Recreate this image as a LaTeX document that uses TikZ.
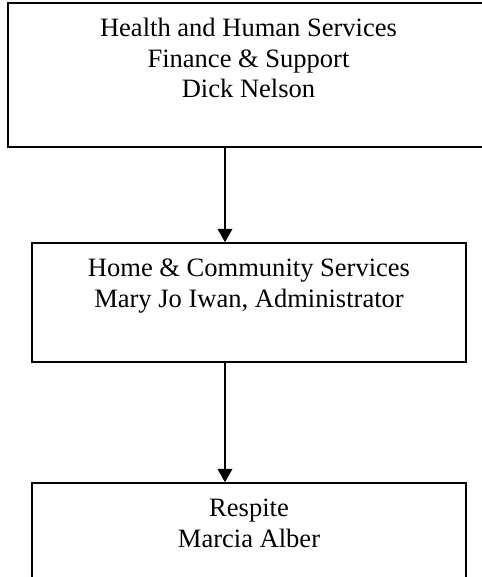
\documentclass[tikz,border=0pt]{standalone}
\usepackage{fontspec}
\setmainfont{Liberation Serif}
\usetikzlibrary{positioning,arrows.meta}

\begin{document}
\begin{tikzpicture}[x=0.75pt,y=-0.75pt,
  box/.style={draw,line width=1.2pt,inner sep=0pt},
  caption/.style={align=center,inner sep=0pt,font=\fontsize{19.9}{22.9}\selectfont},
  link/.style={line width=1.2pt,-{Triangle[width=11pt,length=10pt]}}]
\useasboundingbox (0,0) rectangle (481,577);
\node[box,minimum width=360.75pt,minimum height=108pt] (hhs) at (248.5,75) {};
\node[box,minimum width=325.5pt,minimum height=89.25pt] (hcs) at (249,302.5) {};
\node[box,minimum width=325.5pt,minimum height=89.25pt] (respite) at (249,542.5) {};
\node[caption,below=12pt of hhs.north] (hhstext) {Health and Human Services\\Finance \& Support\\Dick Nelson};
\node[caption,below=12.6pt of hcs.north] (hcstext) {Home \& Community Services\\Mary Jo Iwan, Administrator};
\node[caption,below=12.6pt of respite.north] (respitetext) {Respite\\Marcia Alber};
\coordinate (spine) at (225,0);
\draw[link] (hhs.south -| spine) -- (hcs.north -| spine);
\draw[link] (hcs.south -| spine) -- (respite.north -| spine);
\end{tikzpicture}
\end{document}
